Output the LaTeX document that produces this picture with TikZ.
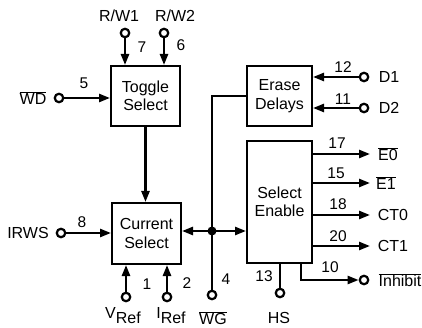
\documentclass[tikz,border=0pt]{standalone}
\usepackage{fontspec}
\setmainfont{Liberation Sans}
\usetikzlibrary{arrows.meta}
\newcommand\myov[1]{$\overline{\mbox{#1}}$}
\begin{document}
\begin{tikzpicture}[x=1pt,y=-1pt,
  box/.style={draw,line width=2pt,inner sep=0pt,align=center,font=\fontsize{16}{18.5}\selectfont},
  pin/.style={circle,draw,line width=2.2pt,inner sep=0pt,minimum size=8.5pt,fill=white},
  wire/.style={line width=2.4pt},
  arr/.style={wire,-{Triangle[length=11pt,width=8pt]}},
  txt/.style={font=\fontsize{16}{18}\selectfont,inner sep=0pt},
  num/.style={font=\fontsize{15.5}{18}\selectfont,inner sep=0pt},
]
\useasboundingbox (0,0) rectangle (422,328);
% boxes
\node[box,minimum width=69pt,minimum height=60pt] (tog) at (145.5,96) {Toggle\\Select};
\node[box,minimum width=69pt,minimum height=61pt] (cur) at (146.5,233.5) {Current\\Select};
\node[box,minimum width=65pt,minimum height=60pt] (era) at (279.5,96) {Erase\\Delays};
\node[box,minimum width=65pt,minimum height=122pt] (sel) at (279.5,202) {Select\\Enable};
% pins
\node[pin] (rw1) at (125,33) {};
\node[pin] (rw2) at (164,33) {};
\node[pin] (wd) at (59,98) {};
\node[pin] (irws) at (61,233) {};
\node[pin] (vref) at (126,297) {};
\node[pin] (iref) at (167,297) {};
\node[pin] (wg) at (212,295) {};
\node[pin] (d1) at (364,77) {};
\node[pin] (d2) at (364,108) {};
\node[pin] (hs) at (280,293) {};
\node[pin] (inh) at (364,280) {};
% junction
\coordinate (j) at (212,231);
\coordinate (e0) at (370,154);
\coordinate (e1) at (370,183);
\coordinate (ct0) at (370,215);
\coordinate (ct1) at (370,246);
\coordinate (ib) at (301,280);
% connectors
\draw[arr] (rw1) -- (rw1 |- tog.north);
\draw[arr] (rw2) -- (rw2 |- tog.north);
\draw[arr] (wd) -- (wd -| tog.west);
\draw[arr] (tog.south) -- (tog.south |- cur.north);
\draw[arr] (irws) -- (irws -| cur.west);
\draw[arr] (vref) -- (vref |- cur.south);
\draw[arr] (iref) -- (iref |- cur.south);
\draw[arr] (j) -- (j -| cur.east);
\draw[arr] (j) -- (j -| sel.west);
\draw[wire] (wg) -- (j);
\draw[wire] (j) |- (era.west);
\fill (j) circle (4.5pt);
\draw[arr] (d1) -- (d1 -| era.east);
\draw[arr] (d2) -- (d2 -| era.east);
\draw[arr] (e0 -| sel.east) -- (e0);
\draw[arr] (e1 -| sel.east) -- (e1);
\draw[arr] (ct0 -| sel.east) -- (ct0);
\draw[arr] (ct1 -| sel.east) -- (ct1);
\draw[arr] (ib |- sel.south) -- (ib) -- (inh.west);
\draw[wire] (hs) -- (hs |- sel.south);
% labels
\node[txt] (lrw1) at (119,16) {R/W1};
\node[txt] (lrw2) at (175,16) {R/W2};
\node[num] (n7) at (142,47) {7};
\node[num] (n6) at (181,45) {6};
\node[num] (n5) at (84,83) {5};
\node[txt] (lwd) at (33,98) {\myov{WD}};
\node[num] (n8) at (82,222) {8};
\node[txt] (lirws) at (28,233) {IRWS};
\node[num] (n1) at (147,284) {1};
\node[num] (n2) at (187,283) {2};
\node[num] (n4) at (226,279) {4};
\node[num] (n13) at (264,276) {13};
\node[txt] (lvref) at (123,316) {V\raisebox{-5pt}{Ref}};
\node[txt] (liref) at (171,316) {I\raisebox{-5pt}{Ref}};
\node[txt] (lwg) at (213,318) {\myov{WG}};
\node[txt] (lhs) at (279,318) {HS};
\node[num] (n12) at (343,67) {12};
\node[num] (n11) at (343,99) {11};
\node[txt] (ld1) at (389,77) {D1};
\node[txt] (ld2) at (389,108) {D2};
\node[num] (n17) at (337,143) {17};
\node[txt] (le0) at (388,154) {\myov{E0}};
\node[num] (n15) at (336,173) {15};
\node[txt] (le1) at (386,183) {\myov{E1}};
\node[num] (n18) at (338,204) {18};
\node[txt] (lct0) at (393,215) {CT0};
\node[num] (n20) at (338,236) {20};
\node[txt] (lct1) at (393,246) {CT1};
\node[num] (n10) at (330,267) {10};
\node[txt] (linh) at (400,280) {\myov{Inhibit}};
\end{tikzpicture}
\end{document}
